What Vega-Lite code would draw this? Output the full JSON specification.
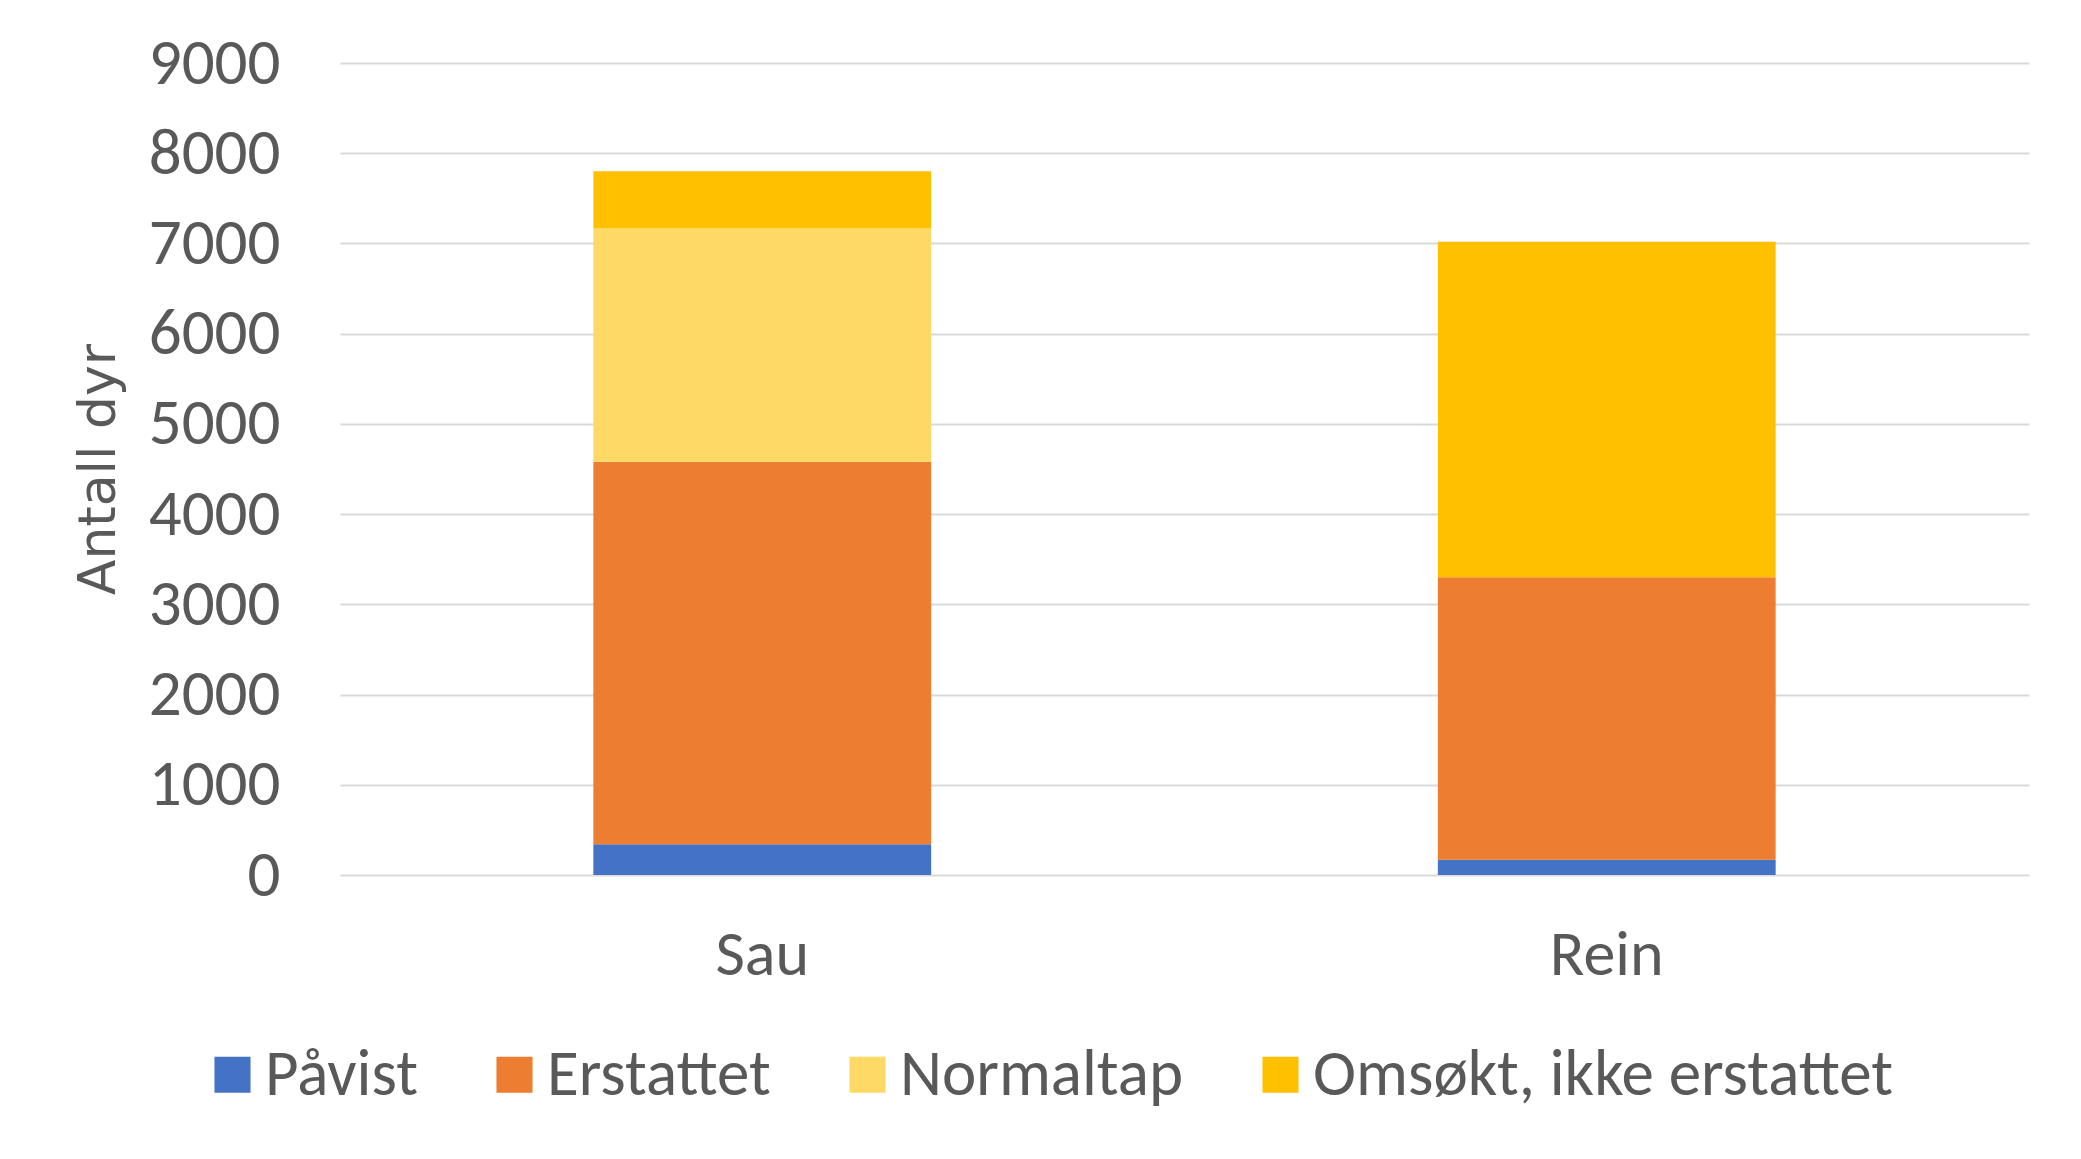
{
  "$schema": "https://vega.github.io/schema/vega-lite/v6.json",
  "autosize": {"type": "none"},
  "width": 1689,
  "height": 812,
  "padding": {"left": 340, "top": 63, "right": 52, "bottom": 284},
  "background": "white",
  "config": {
    "view": {"stroke": null},
    "font": "Carlito, Lato, sans-serif"
  },
  "data": {
    "values": [
      {"dyr": "Sau", "kategori": "Påvist", "k": 1, "antall": 340},
      {"dyr": "Sau", "kategori": "Erstattet", "k": 2, "antall": 4240},
      {"dyr": "Sau", "kategori": "Normaltap", "k": 3, "antall": 2585},
      {"dyr": "Sau", "kategori": "Omsøkt, ikke erstattet", "k": 4, "antall": 635},
      {"dyr": "Rein", "kategori": "Påvist", "k": 1, "antall": 170},
      {"dyr": "Rein", "kategori": "Erstattet", "k": 2, "antall": 3130},
      {"dyr": "Rein", "kategori": "Normaltap", "k": 3, "antall": 0},
      {"dyr": "Rein", "kategori": "Omsøkt, ikke erstattet", "k": 4, "antall": 3720}
    ]
  },
  "mark": {"type": "bar"},
  "encoding": {
    "x": {
      "field": "dyr",
      "type": "nominal",
      "sort": ["Sau", "Rein"],
      "title": null,
      "scale": {"paddingInner": 0.6, "paddingOuter": 0.3},
      "axis": {
        "domain": false,
        "ticks": false,
        "labelAngle": 0,
        "labelFontSize": 64,
        "labelColor": "#595959",
        "labelPadding": 48,
        "labelFont": "Carlito, Lato, sans-serif"
      }
    },
    "y": {
      "field": "antall",
      "type": "quantitative",
      "stack": "zero",
      "scale": {"domain": [0, 9000]},
      "title": "Antall dyr",
      "axis": {
        "values": [0, 1000, 2000, 3000, 4000, 5000, 6000, 7000, 8000, 9000],
        "format": "d",
        "domain": false,
        "ticks": false,
        "gridColor": "#D9D9D9",
        "gridWidth": 2,
        "labelFontSize": 65,
        "labelColor": "#595959",
        "labelPadding": 60,
        "labelFont": "Carlito, Lato, sans-serif",
        "titleFont": "DejaVu Sans",
        "titleFontSize": 52,
        "titleFontWeight": "normal",
        "titleColor": "#595959",
        "titleX": -242,
        "titleY": 406,
        "titleAngle": -90,
        "titleAlign": "center",
        "titleBaseline": "middle"
      }
    },
    "color": {
      "field": "kategori",
      "type": "nominal",
      "scale": {
        "domain": ["Påvist", "Erstattet", "Normaltap", "Omsøkt, ikke erstattet"],
        "range": ["#4472C4", "#ED7D31", "#FFD966", "#FFC000"]
      },
      "legend": {
        "title": null,
        "orient": "none",
        "direction": "horizontal",
        "legendX": -140,
        "legendY": 979,
        "symbolType": "square",
        "symbolSize": 1300,
        "symbolStrokeWidth": 0,
        "symbolOpacity": 1,
        "labelFontSize": 65,
        "labelColor": "#595959",
        "labelFont": "Carlito, Lato, sans-serif",
        "labelOffset": 0,
        "labelLimit": 1000,
        "columnPadding": 64
      }
    },
    "order": {"field": "k", "type": "quantitative"}
  }
}
